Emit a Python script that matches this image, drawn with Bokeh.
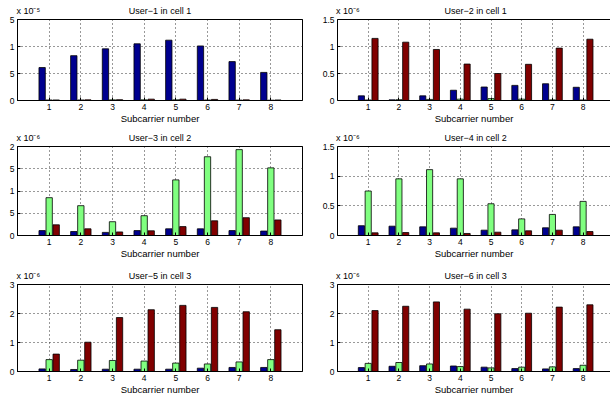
import numpy as np
from bokeh.plotting import figure
from bokeh.models import FixedTicker, LinearAxis, Range1d, ColumnDataSource
from bokeh.layouts import row, column
from bokeh.embed import file_html
from bokeh.resources import INLINE

subcarriers = [1, 2, 3, 4, 5, 6, 7, 8]
xtick_labels = ["1", "2", "3", "4", "5", "6", "7", "8"]
series_colors = ["#00008F", "#80FF80", "#800000"]

titles = ["User\u22121 in cell 1", "User\u22122 in cell 1",
          "User\u22123 in cell 2", "User\u22124 in cell 2",
          "User\u22125 in cell 3", "User\u22126 in cell 3"]
multipliers = ["x 10\u207b\u2075", "x 10\u207b\u2076", "x 10\u207b\u2076",
               "x 10\u207b\u2076", "x 10\u207b\u2076", "x 10\u207b\u2076"]
xlabel = "Subcarrier number"

# values in units of the multiplier shown above each panel
u1_blue = [0.61, 0.83, 0.957, 1.05, 1.117, 1.01, 0.72, 0.52]
u1_green = [0.01, 0.01, 0.012, 0.012, 0.012, 0.01, 0.008, 0.006]
u1_red = [0.01, 0.012, 0.015, 0.025, 0.025, 0.02, 0.012, 0.01]

u2_blue = [0.086, 0.012, 0.086, 0.19, 0.25, 0.28, 0.31, 0.245]
u2_green = [0.01, 0.015, 0.02, 0.025, 0.035, 0.025, 0.012, 0.01]
u2_red = [1.15, 1.08, 0.945, 0.675, 0.50, 0.67, 0.97, 1.135]

u3_blue = [0.11, 0.09, 0.07, 0.11, 0.15, 0.15, 0.11, 0.10]
u3_green = [0.85, 0.67, 0.31, 0.445, 1.25, 1.77, 1.93, 1.52]
u3_red = [0.24, 0.15, 0.08, 0.105, 0.20, 0.33, 0.40, 0.35]

u4_blue = [0.165, 0.157, 0.146, 0.124, 0.09, 0.095, 0.13, 0.146]
u4_green = [0.75, 0.955, 1.11, 0.955, 0.535, 0.28, 0.355, 0.575]
u4_red = [0.045, 0.05, 0.045, 0.034, 0.056, 0.079, 0.09, 0.067]

u5_blue = [0.09, 0.07, 0.08, 0.08, 0.08, 0.115, 0.14, 0.14]
u5_green = [0.41, 0.39, 0.38, 0.36, 0.29, 0.26, 0.33, 0.41]
u5_red = [0.60, 1.01, 1.86, 2.13, 2.28, 2.21, 2.06, 1.44]

u6_blue = [0.135, 0.18, 0.20, 0.19, 0.15, 0.10, 0.09, 0.10]
u6_green = [0.28, 0.31, 0.26, 0.17, 0.125, 0.15, 0.16, 0.215]
u6_red = [2.10, 2.25, 2.40, 2.15, 1.99, 2.01, 2.22, 2.30]

series = [(u1_blue, u1_green, u1_red), (u2_blue, u2_green, u2_red),
          (u3_blue, u3_green, u3_red), (u4_blue, u4_green, u4_red),
          (u5_blue, u5_green, u5_red), (u6_blue, u6_green, u6_red)]

yticks = [[0, 0.5, 1, 1.5], [0, 0.5, 1, 1.5], [0, 0.5, 1, 1.5, 2],
          [0, 0.5, 1, 1.5], [0, 1, 2, 3], [0, 1, 2, 3]]
ytick_labels = [["0", "5", "1", "5"], ["0", "0.5", "1", "1.5"],
                ["0", "5", "1", "5", "2"], ["0", "0.5", "1", "1.5"],
                ["0", "1", "2", "3"], ["0", "1", "2", "3"]]

FONT = "Liberation Sans"
TICK_FS = "8.5px"
TXT_FS = "9.5px"

# layout (pixels)
row_h = [126, 135, 136]
row_top = [19, 20, 23]
row_bottom = [26, 26, 26]
col_w = [305, 305]
col_left = [17, 32]
col_right = [3, 0]
col_xmax = [9.0, 273 / 30.7]
offsets = [-0.222, 0.0, 0.222]
bar_w = 0.2
title_pos = 4.5
mult_pos = 0.34


def style_axis(ax):
    ax.major_tick_in = 3
    ax.major_tick_out = 0
    ax.minor_tick_line_color = None
    ax.major_label_standoff = 3
    ax.major_label_text_font = FONT
    ax.major_label_text_font_size = TICK_FS
    ax.major_label_text_color = "black"
    ax.axis_line_color = "black"
    ax.major_tick_line_color = "black"


def make(i):
    r, c = divmod(i, 2)
    ymax = yticks[i][-1]
    p = figure(width=col_w[c], height=row_h[r],
               x_range=Range1d(0, col_xmax[c]), y_range=Range1d(0, ymax),
               output_backend="svg", toolbar_location=None,
               min_border_left=col_left[c], min_border_right=col_right[c],
               min_border_top=row_top[r], min_border_bottom=row_bottom[r])
    p.outline_line_color = "black" if c == 0 else None
    p.background_fill_color = "white"
    p.border_fill_color = "white"
    for k in range(3):
        src = ColumnDataSource(dict(x=[s + offsets[k] for s in subcarriers],
                                    top=series[i][k]))
        p.vbar(x="x", top="top", bottom=0, width=bar_w, source=src,
               fill_color=series_colors[k], line_color="black", line_width=0.8)

    xt = FixedTicker(ticks=subcarriers)
    yt = FixedTicker(ticks=yticks[i])
    for ax in p.xaxis:
        ax.ticker = xt
        ax.major_label_overrides = {s: l for s, l in zip(subcarriers, xtick_labels)}
        style_axis(ax)
        ax.axis_label = xlabel
        ax.axis_label_standoff = 0
        ax.axis_label_text_font = FONT
        ax.axis_label_text_font_size = TXT_FS
        ax.axis_label_text_font_style = "normal"
        ax.axis_label_text_color = "black"
    for ax in p.yaxis:
        ax.ticker = yt
        ax.major_label_overrides = {t: l for t, l in zip(yticks[i], ytick_labels[i])}
        style_axis(ax)

    # top edge carrying the multiplier and the panel title as its labels
    top_ax = LinearAxis(ticker=FixedTicker(ticks=[mult_pos, title_pos]),
                        major_label_overrides={mult_pos: multipliers[i],
                                               title_pos: titles[i]},
                        major_tick_line_color=None, minor_tick_line_color=None,
                        major_tick_in=0, major_tick_out=0, major_label_standoff=4,
                        major_label_text_font=FONT, major_label_text_font_size="9px",
                        major_label_text_color="black", axis_line_color="black")
    p.add_layout(top_ax, "above")

    for g in (p.xgrid, p.ygrid):
        g.grid_line_color = "#333333"
        g.grid_line_dash = "1 3"
        g.grid_line_width = 1
    p.xgrid.ticker = xt
    p.ygrid.ticker = yt
    return p


figs = [make(i) for i in range(6)]
layout = column(row(figs[0], figs[1]), row(figs[2], figs[3]), row(figs[4], figs[5]))

open("out.html", "w").write(file_html(layout, INLINE))
